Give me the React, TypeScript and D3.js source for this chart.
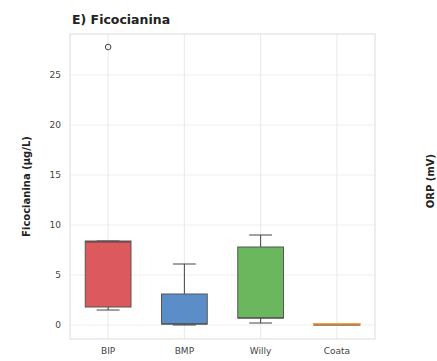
import * as d3 from "d3";

const categories = ["BIP", "BMP", "Willy", "Coata"];
const whiskLow = [1.5, 0.0, 0.2, 0.0];
const q1 = [1.8, 0.1, 0.7, 0.0];
const medians = [8.3, 0.1, 0.7, 0.0];
const q3 = [8.4, 3.1, 7.8, 0.1];
const whiskHigh = [8.4, 6.1, 9.0, 0.1];
const outliers = [[27.8], [], [], []];
const colors = ["#dc5a5e", "#5b8ec8", "#6bb75e", "#f2a154"];
const yTicks = [0, 5, 10, 15, 20, 25];

export default function App() {
  const width = 437;
  const height = 361;
  const margin = { top: 34, right: 62, bottom: 22, left: 70 };

  const x = d3
    .scaleBand()
    .domain(categories)
    .range([margin.left, width - margin.right])
    .padding(0);

  const y = d3
    .scaleLinear()
    .domain([-1.4, 29.1])
    .range([height - margin.bottom, margin.top]);

  const boxW = x.bandwidth() * 0.6;
  const capW = boxW * 0.5;

  return (
    <svg
      width={width}
      height={height}
      style={{ position: "absolute", left: 0, top: 0, fontFamily: "DejaVu Sans" }}
    >
      <rect width={width} height={height} fill="#fff" />
      {/* grid */}
      {yTicks.map((t) => (
        <line
          key={"gy" + t}
          x1={margin.left}
          x2={width - margin.right}
          y1={y(t)}
          y2={y(t)}
          stroke="#ebebeb"
          strokeWidth={0.8}
        />
      ))}
      {categories.map((c) => (
        <line
          key={"gx" + c}
          x1={x(c)! + x.bandwidth() / 2}
          x2={x(c)! + x.bandwidth() / 2}
          y1={margin.top}
          y2={height - margin.bottom}
          stroke="#e3e3e3"
          strokeWidth={0.8}
        />
      ))}
      <rect
        x={margin.left}
        y={margin.top}
        width={width - margin.right - margin.left}
        height={height - margin.bottom - margin.top}
        fill="none"
        stroke="#dcdcdc"
        strokeWidth={1}
      />
      {/* boxes */}
      {categories.map((c, i) => {
        const cx = x(c)! + x.bandwidth() / 2;
        const flat = q3[i] - q1[i] < 0.5;
        return (
          <g key={c}>
            <line x1={cx} x2={cx} y1={y(q3[i])} y2={y(whiskHigh[i])} stroke="#444" strokeWidth={1} />
            <line x1={cx} x2={cx} y1={y(q1[i])} y2={y(whiskLow[i])} stroke="#444" strokeWidth={1} />
            {!flat && (
              <>
                <line x1={cx - capW / 2} x2={cx + capW / 2} y1={y(whiskHigh[i])} y2={y(whiskHigh[i])} stroke="#444" strokeWidth={1} />
                <line x1={cx - capW / 2} x2={cx + capW / 2} y1={y(whiskLow[i])} y2={y(whiskLow[i])} stroke="#444" strokeWidth={1} />
              </>
            )}
            <rect
              x={cx - boxW / 2}
              y={y(q3[i])}
              width={boxW}
              height={Math.max(1, y(q1[i]) - y(q3[i]))}
              fill={colors[i]}
              stroke={flat ? colors[i] : "#555"}
              strokeWidth={flat ? 2 : 1}
            />
            <line x1={cx - boxW / 2} x2={cx + boxW / 2} y1={y(medians[i])} y2={y(medians[i])} stroke={flat ? "#7a6a5a" : "#444"} strokeWidth={1} />
            {outliers[i].map((o, j) => (
              <circle key={j} cx={cx} cy={y(o)} r={2.8} fill="none" stroke="#444" strokeWidth={1} />
            ))}
          </g>
        );
      })}
      {/* y ticks */}
      {yTicks.map((t) => (
        <text key={"ty" + t} x={margin.left - 9} y={y(t)} dy="0.35em" textAnchor="end" fontSize={9} fill="#444">
          {t}
        </text>
      ))}
      {categories.map((c) => (
        <text key={"tx" + c} x={x(c)! + x.bandwidth() / 2} y={height - margin.bottom + 15} textAnchor="middle" fontSize={9} fill="#444">
          {c}
        </text>
      ))}
      <text x={margin.left + 2} y={24} fontSize={12.5} fontWeight="bold" fill="#222">
        E) Ficocianina
      </text>
      <text
        transform={`translate(30,${(margin.top + height - margin.bottom) / 2}) rotate(-90)`}
        textAnchor="middle"
        fontSize={10}
        fontWeight="bold"
        fill="#222"
      >
        Ficocianina (μg/L)
      </text>
      <text
        transform={`translate(434,181) rotate(-90)`}
        textAnchor="middle"
        fontSize={10}
        fontWeight="bold"
        fill="#222"
      >
        ORP (mV)
      </text>
    </svg>
  );
}
